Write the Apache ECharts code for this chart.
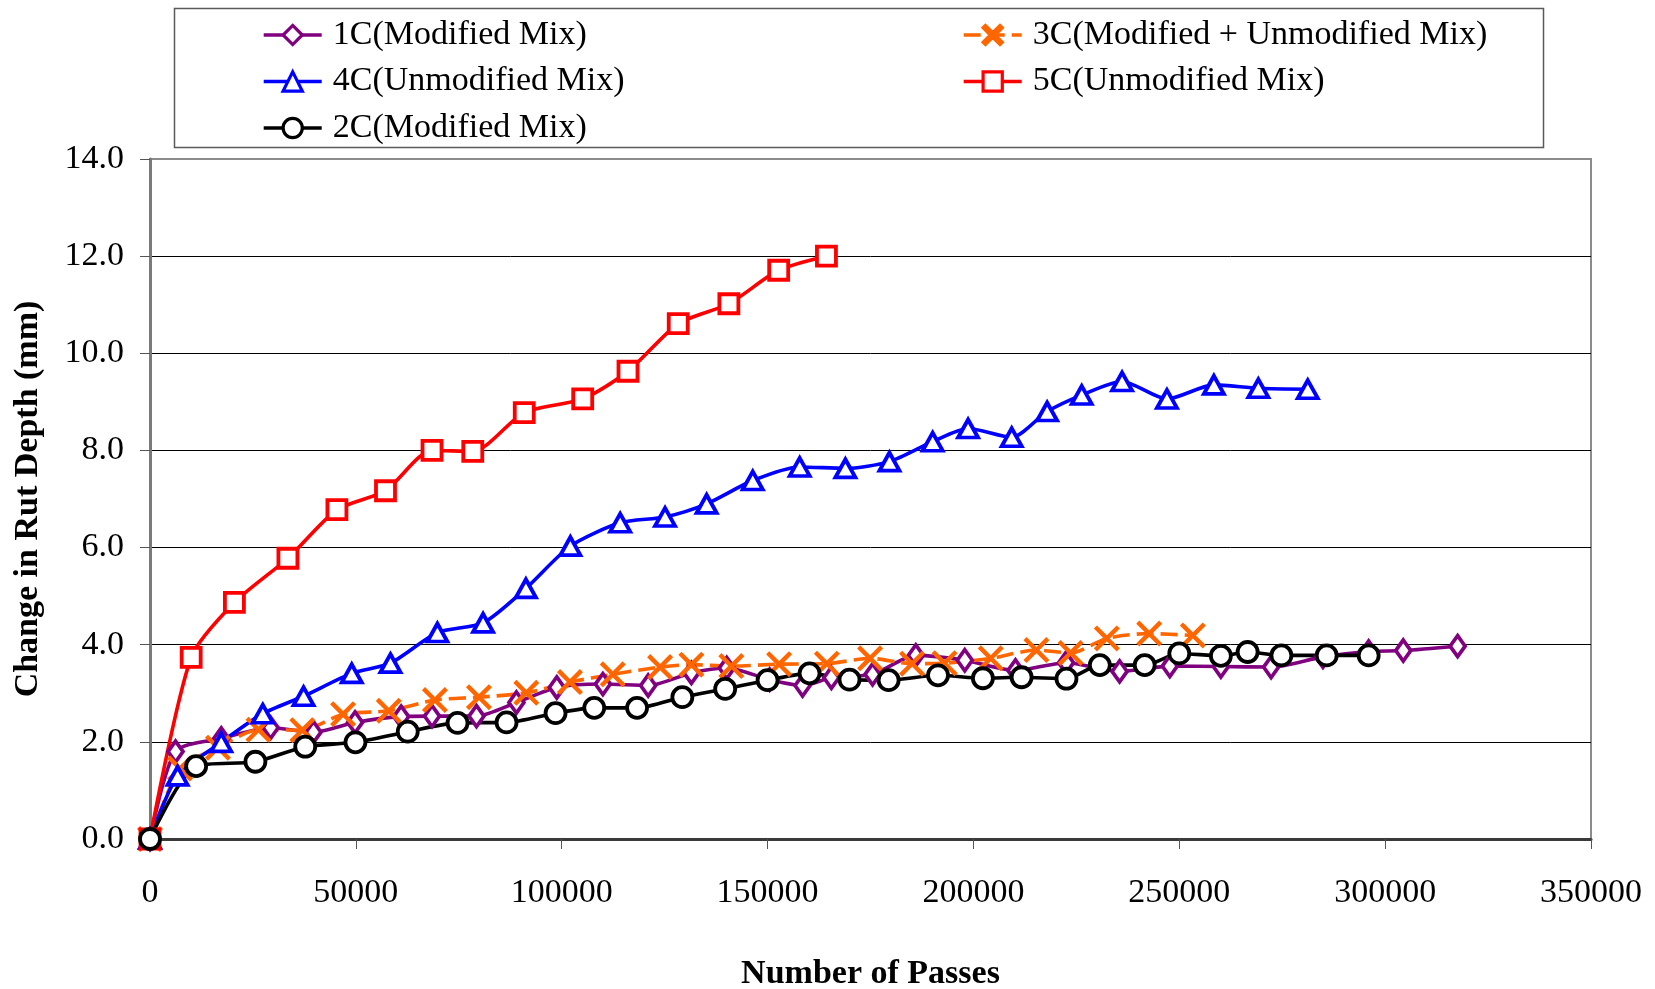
<!DOCTYPE html>
<html>
<head>
<meta charset="utf-8">
<script src="https://cdn.jsdelivr.net/npm/echarts@6/dist/echarts.min.js"></script>
<style>
html,body{margin:0;padding:0;background:#fff;}
#chart{width:1655px;height:989px;}
</style>
</head>
<body>
<div id="chart"></div>
<script>
// ---- Data ----
const xTicks = [0, 50000, 100000, 150000, 200000, 250000, 300000, 350000];
const yTicks = [0, 2, 4, 6, 8, 10, 12, 14];

const passes1C = [0, 6200, 17300, 29300, 39700, 49800, 61000, 68500, 79300, 89000, 98800, 110000, 121000, 131500, 140100, 150500, 158500, 165500, 175500, 186000, 197900, 210200, 222500, 235500, 247700, 260100, 272300, 284900, 296000, 304400, 317600];
const rut1C    = [0, 1.80, 2.07, 2.29, 2.20, 2.40, 2.52, 2.53, 2.53, 2.81, 3.12, 3.19, 3.16, 3.42, 3.52, 3.28, 3.16, 3.32, 3.39, 3.78, 3.68, 3.47, 3.63, 3.45, 3.56, 3.55, 3.54, 3.75, 3.86, 3.88, 3.97];

const passes3C = [0, 7300, 16500, 26350, 37000, 46900, 58000, 69200, 79900, 91400, 102000, 112400, 123900, 131500, 141200, 152800, 164400, 174900, 185100, 193000, 204200, 215300, 223600, 232400, 242700, 253300];
const rut3C    = [0, 1.45, 1.88, 2.25, 2.24, 2.57, 2.64, 2.86, 2.92, 3.01, 3.23, 3.39, 3.54, 3.59, 3.56, 3.60, 3.61, 3.72, 3.61, 3.62, 3.72, 3.89, 3.83, 4.13, 4.23, 4.19];

const passes4C = [0, 6700, 17300, 27400, 37300, 49000, 58400, 69800, 80900, 91300, 102100, 114200, 125100, 135200, 146400, 157800, 168900, 179600, 190100, 198700, 209300, 217900, 226300, 236100, 247000, 258400, 269200, 281200];
const rut4C    = [0, 1.30, 1.99, 2.58, 2.94, 3.41, 3.62, 4.25, 4.45, 5.16, 6.03, 6.51, 6.63, 6.90, 7.38, 7.66, 7.63, 7.77, 8.18, 8.45, 8.27, 8.80, 9.14, 9.42, 9.06, 9.35, 9.28, 9.26];

const passes5C = [0, 10000, 20500, 33500, 45400, 57200, 68500, 78400, 90900, 105100, 116100, 128300, 140600, 152700, 164300];
const rut5C    = [0, 3.74, 4.87, 5.78, 6.78, 7.17, 8.00, 7.98, 8.78, 9.06, 9.63, 10.61, 11.02, 11.71, 12.00];

const passes2C = [0, 11200, 25600, 37700, 49900, 62600, 74700, 86600, 98500, 107900, 118300, 129300, 139700, 150000, 160200, 169900, 179400, 191400, 202300, 211700, 222600, 230700, 241600, 250000, 260100, 266600, 274800, 285800, 296000];
const rut2C    = [0, 1.50, 1.59, 1.90, 1.99, 2.21, 2.39, 2.40, 2.59, 2.70, 2.70, 2.92, 3.09, 3.27, 3.41, 3.28, 3.27, 3.37, 3.31, 3.33, 3.30, 3.58, 3.58, 3.82, 3.77, 3.85, 3.78, 3.78, 3.78];

const names = ['1C(Modified Mix)', '3C(Modified + Unmodified Mix)', '4C(Unmodified Mix)', '5C(Unmodified Mix)', '2C(Modified Mix)'];

// ---- helpers ----
function pairs(xs, ys) { return xs.map((x, i) => [x, ys[i]]); }
const FONT = "'Liberation Serif', 'Times New Roman', serif";
const X_PATH = 'path://M0,1.2 L1.2,0 L5,3.8 L8.8,0 L10,1.2 L6.2,5 L10,8.8 L8.8,10 L5,6.2 L1.2,10 L0,8.8 L3.8,5 Z';

function makeSeries(name, xs, ys, color, symbol, size, dashed, hollow) {
  return {
    name: name,
    type: 'line',
    data: pairs(xs, ys),
    smooth: 0.25,
    symbol: symbol,
    symbolSize: size,
    showAllSymbol: true,
    clip: false,
    lineStyle: { color: color, width: 3.6, type: dashed ? [17, 7] : 'solid' },
    itemStyle: hollow
      ? { color: '#ffffff', borderColor: color, borderWidth: 3.8 }
      : { color: color, borderColor: color, borderWidth: 0 },
    emphasis: { disabled: true },
    z: 2
  };
}

const chart = echarts.init(document.getElementById('chart'), null, { renderer: 'canvas' });

const legendText = { fontFamily: FONT, fontSize: 34, color: '#000', lineHeight: 40, padding: [0, 0, 0, 6] };
const legendCommon = {
  orient: 'vertical', top: 15, padding: 0, itemGap: 6.5,
  itemWidth: 58, itemHeight: 24,
  textStyle: legendText,
  lineStyle: { width: 3.4 },
  itemStyle: { borderWidth: 3.2 },
  selectedMode: false
};

const option = {
  backgroundColor: '#ffffff',
  animation: false,
  grid: {
    left: 150, right: 64, top: 159, bottom: 150,
    outerBoundsMode: 'none',
    containLabel: false,
    show: true, borderColor: '#8c8c8c', borderWidth: 2, backgroundColor: 'transparent'
  },
  legend: [
    Object.assign({}, legendCommon, { left: 262, data: [names[0], names[2], names[4]] }),
    Object.assign({}, legendCommon, { left: 962, data: [names[1], names[3]] })
  ],
  graphic: [
    {
      type: 'rect', left: 172, top: 6, z: -1,
      shape: { width: 1369, height: 139 },
      style: { fill: 'none', stroke: '#5a5a5a', lineWidth: 1.5 }
    }
  ],
  xAxis: {
    type: 'value',
    min: xTicks[0], max: xTicks[xTicks.length - 1], interval: xTicks[1] - xTicks[0],
    name: 'Number of Passes',
    nameLocation: 'middle', nameGap: 118,
    nameTextStyle: { fontFamily: FONT, fontSize: 34, fontWeight: 'bold', color: '#000' },
    axisLine: { show: true, lineStyle: { color: '#3a3a3a', width: 3 } },
    axisTick: { show: true, length: 10, inside: false, lineStyle: { color: '#555', width: 1 } },
    axisLabel: { fontFamily: FONT, fontSize: 34, color: '#000', margin: 37,
      formatter: v => String(v) },
    splitLine: { show: false }
  },
  yAxis: {
    type: 'value',
    min: yTicks[0], max: yTicks[yTicks.length - 1], interval: yTicks[1] - yTicks[0],
    name: 'Change in Rut Depth (mm)',
    nameLocation: 'middle', nameGap: 105, nameRotate: 90,
    nameTextStyle: { fontFamily: FONT, fontSize: 34, fontWeight: 'bold', color: '#000' },
    axisLine: { show: true, lineStyle: { color: '#7a7a7a', width: 3 } },
    axisTick: { show: true, length: 10, inside: false, lineStyle: { color: '#555', width: 1 } },
    axisLabel: { fontFamily: FONT, fontSize: 34, color: '#000', margin: 26,
      formatter: v => v.toFixed(1) },
    splitLine: { show: true, showMinLine: false, showMaxLine: false, lineStyle: { color: '#000', width: 1 } }
  },
  series: [
    makeSeries(names[0], passes1C, rut1C, '#800080', 'diamond', [15, 21], false, true),
    makeSeries(names[1], passes3C, rut3C, '#FF6600', X_PATH, 26, true, false),
    makeSeries(names[2], passes4C, rut4C, '#0000FF', 'triangle', [20, 18], false, true),
    makeSeries(names[3], passes5C, rut5C, '#FF0000', 'rect', 19, false, true),
    makeSeries(names[4], passes2C, rut2C, '#000000', 'circle', 20, false, true)
  ]
};

chart.setOption(option);
</script>
</body>
</html>
